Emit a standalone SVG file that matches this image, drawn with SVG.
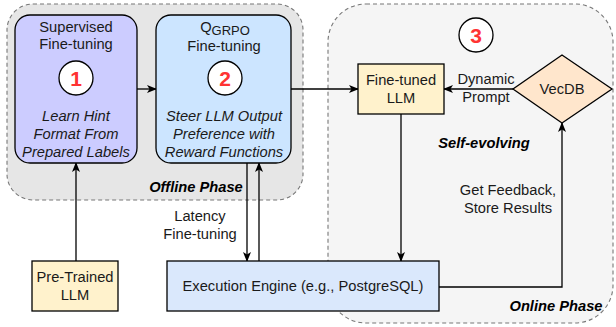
<svg xmlns="http://www.w3.org/2000/svg" width="616" height="327" viewBox="0 0 616 327">
<style>
text{font-family:"Liberation Sans",Arial,sans-serif;font-size:14.7px;fill:#1a1a1a;text-anchor:middle}
.it{font-style:italic}
.bi{font-style:italic;font-weight:bold;fill:#000}
.num{font-size:21px;font-weight:bold;fill:#ff3333}
.box{stroke:#000;stroke-width:1.3}
.ct{stroke:#777;stroke-width:1.1;stroke-dasharray:4 3}
.ln{fill:none;stroke:#000;stroke-width:1.3}
.circ{fill:#fff;stroke:#000;stroke-width:1.3}
</style>
<defs>
<marker id="ah" viewBox="0 0 10 10" refX="9" refY="5" markerWidth="10" markerHeight="10" markerUnits="userSpaceOnUse" orient="auto">
<path d="M0,1 L10,5 L0,9 L2.5,5 Z" fill="#000"/>
</marker>
</defs>
<g id="offline-phase">
<rect class="ct" x="7" y="4" width="296" height="196" rx="26" fill="#e6e6e6"/>
<text class="bi" x="196" y="192">Offline Phase</text>
</g>
<g id="online-phase">
<rect class="ct" x="328" y="4" width="285" height="319" rx="38" fill="#f5f5f5"/>
<text class="bi" x="556" y="311">Online Phase</text>
<text class="bi" x="484" y="148">Self-evolving</text>
<circle class="circ" cx="476" cy="35" r="17"/>
<text class="num" x="476" y="42.5">3</text>
</g>
<g id="connectors">
<line class="ln" x1="137" y1="89" x2="156" y2="89" marker-end="url(#ah)"/>
<line class="ln" x1="291" y1="89" x2="358" y2="89" marker-end="url(#ah)"/>
<line class="ln" x1="513" y1="89" x2="444" y2="89" marker-end="url(#ah)"/>
<line class="ln" x1="401" y1="114" x2="401" y2="261" marker-end="url(#ah)"/>
<polyline class="ln" points="439,287 562,287 562,123" marker-end="url(#ah)"/>
<line class="ln" x1="76" y1="261" x2="76" y2="163" marker-end="url(#ah)"/>
<line class="ln" x1="247" y1="163" x2="247" y2="261" marker-end="url(#ah)"/>
<line class="ln" x1="259" y1="261" x2="259" y2="163" marker-end="url(#ah)"/>
<text x="486" y="84">Dynamic</text>
<text x="486" y="102">Prompt</text>
<text x="508" y="195">Get Feedback,</text>
<text x="508" y="213">Store Results</text>
<text x="200" y="221">Latency</text>
<text x="200" y="239">Fine-tuning</text>
</g>
<g id="sft">
<rect class="box" x="15" y="15" width="122" height="148" rx="15" fill="#ccccff"/>
<text x="76" y="32">Supervised</text>
<text x="76" y="49">Fine-tuning</text>
<circle class="circ" cx="76" cy="78" r="17"/>
<text class="num" x="76" y="85.5">1</text>
<text class="it" x="76" y="121">Learn Hint</text>
<text class="it" x="76" y="139">Format From</text>
<text class="it" x="76" y="157">Prepared Labels</text>
</g>
<g id="qgrpo">
<rect class="box" x="156" y="15" width="135" height="148" rx="15" fill="#cce5ff"/>
<text x="225" y="32">Q<tspan font-size="13" dy="3">GRPO</tspan></text>
<text x="224" y="51">Fine-tuning</text>
<circle class="circ" cx="225" cy="78" r="17"/>
<text class="num" x="225" y="85.5">2</text>
<text class="it" x="224" y="121">Steer LLM Output</text>
<text class="it" x="224" y="139">Preference with</text>
<text class="it" x="224" y="157">Reward Functions</text>
</g>
<g id="finetuned-llm">
<rect class="box" x="358" y="64" width="86" height="50" fill="#fff2cc"/>
<text x="401" y="85">Fine-tuned</text>
<text x="401" y="103">LLM</text>
</g>
<g id="vecdb">
<polygon class="box" points="562,55 612,89 562,123 513,89" fill="#ffe6cc"/>
<text x="562" y="94">VecDB</text>
</g>
<g id="pretrained-llm">
<rect class="box" x="32" y="261" width="86" height="50" fill="#fff2cc"/>
<text x="75" y="282">Pre-Trained</text>
<text x="75" y="300">LLM</text>
</g>
<g id="execution-engine">
<rect class="box" x="167" y="261" width="272" height="50" fill="#dae8fc"/>
<text x="303" y="291">Execution Engine (e.g., PostgreSQL)</text>
</g>
</svg>
